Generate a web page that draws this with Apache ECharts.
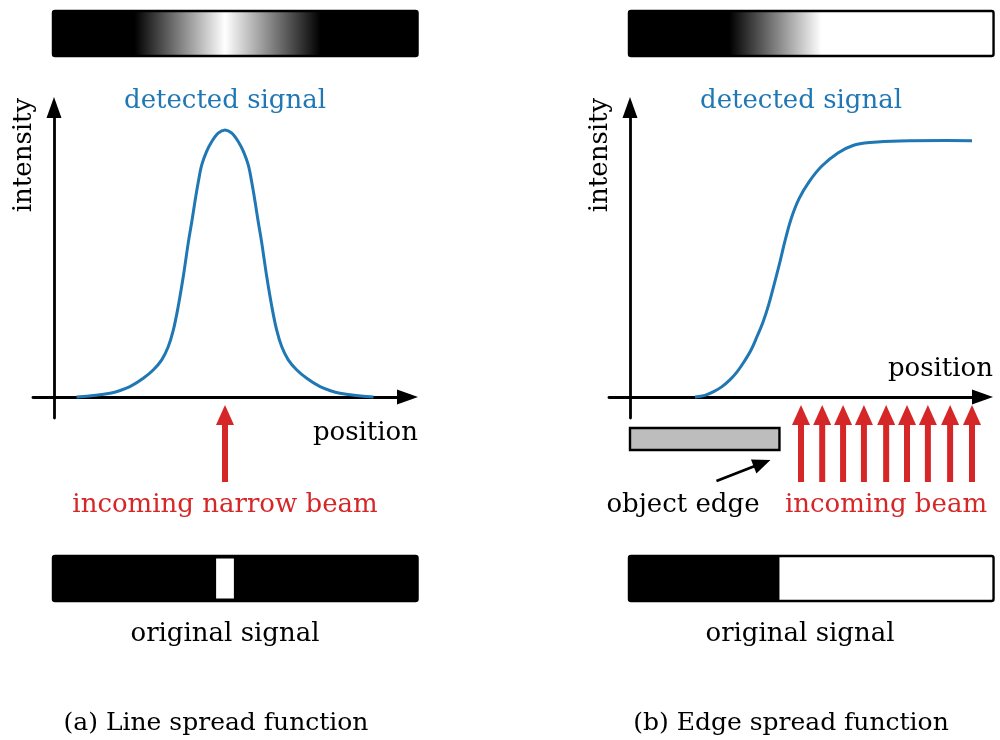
<!DOCTYPE html>
<html lang="en">
<head>
<meta charset="utf-8" />
<title>Line and edge spread function</title>
<style>
  html, body { margin: 0; padding: 0; background: #fff; }
  #main { width: 1000px; height: 740px; }
</style>
</head>
<body>
<div id="main"></div>
<script src="https://cdn.jsdelivr.net/npm/echarts@6/dist/echarts.min.js"></script>
<script>
// ---- values ----
// (a) line spread function: position / intensity
var lsfPos = [0.66, 1.64, 2.22, 2.61, 2.90, 3.15, 3.34, 3.49, 3.63, 3.78, 3.93, 4.03, 4.12, 4.22, 4.32, 4.46, 4.61, 4.80, 5.00,
              5.20, 5.39, 5.54, 5.68, 5.78, 5.88, 5.97, 6.07, 6.22, 6.37, 6.51, 6.66, 6.85, 7.10, 7.39, 7.78, 8.36, 9.34];
var lsfInt = [0.000, 0.014, 0.039, 0.070, 0.101, 0.139, 0.188, 0.251, 0.338, 0.451, 0.581, 0.657, 0.731, 0.806, 0.869, 0.919, 0.956, 0.988, 1.000,
              0.988, 0.956, 0.919, 0.869, 0.806, 0.731, 0.657, 0.581, 0.451, 0.338, 0.251, 0.188, 0.139, 0.101, 0.070, 0.039, 0.014, 0.000];
// (b) edge spread function
var esfPos = [1.90, 2.19, 2.46, 2.69, 2.92, 3.13, 3.33, 3.54, 3.71, 3.89, 4.06, 4.24, 4.39, 4.53, 4.71, 4.94,
              5.23, 5.61, 6.08, 6.52, 7.02, 7.89, 10.0];
var esfInt = [0.000, 0.006, 0.021, 0.039, 0.064, 0.094, 0.131, 0.176, 0.225, 0.281, 0.348, 0.434, 0.509, 0.584, 0.667, 0.742,
              0.805, 0.865, 0.914, 0.942, 0.953, 0.959, 0.960];
// incoming beams (position)
var narrowBeam = [5.0];
var wideBeams = [5.0, 5.62, 6.23, 6.84, 7.49, 8.10, 8.71, 9.36, 10.0];
// original signals
var lineSlit = [4.74, 5.26];
var objectEdge = 4.37;
// grey ramps of the detected-signal strips (position, grey level 0..1)
var lsfRampPos = [2.37, 5.0, 7.78];
var lsfRampLvl = [0, 1, 0];
var esfRampPos = [2.92, 5.6];
var esfRampLvl = [0, 1];

var BLUE = '#1f77b4', RED = '#d62728', INK = '#000';
var FONT = '"DejaVu Serif", "Liberation Serif", serif';

// layout (pixels)
var SX = 34.2, SY = 267, ARROW = 21;
var AXIS_Y = 397, AXIS_BOTTOM = 418, AXIS_TOP = 97;
var STRIP = [-0.03, 10.63];
var TOP_STRIP_Y = 11, LOW_STRIP_Y = 556, STRIP_H = 45;
var panels = [
  { left: 33, originX: 54, tip: 418 },
  { left: 609, originX: 630, tip: 993 }
];

var axisLine = {
  show: true, onZero: true,
  symbol: ['none', 'triangle'], symbolSize: [15, ARROW],
  lineStyle: { color: INK, width: 2.8 }
};
var grids = [], xAxes = [], yAxes = [];
panels.forEach(function (p, i) {
  var right = p.tip - ARROW / 2;
  grids.push({ left: p.left, top: AXIS_TOP + ARROW / 2, width: right - p.left,
               height: AXIS_BOTTOM - AXIS_TOP - ARROW / 2 });
  xAxes.push({ type: 'value', gridIndex: i, min: (p.left - p.originX) / SX, max: (right - p.originX) / SX,
               axisLine: axisLine, axisTick: { show: false }, axisLabel: { show: false }, splitLine: { show: false } });
  yAxes.push({ type: 'value', gridIndex: i, min: -(AXIS_BOTTOM - AXIS_Y) / SY, max: (AXIS_Y - AXIS_TOP - ARROW / 2) / SY,
               axisLine: axisLine, axisTick: { show: false }, axisLabel: { show: false }, splitLine: { show: false } });
});

function zip(a, b) { return a.map(function (v, k) { return [v, b[k]]; }); }
function grey(l) { var g = Math.round(l * 255); return 'rgb(' + g + ',' + g + ',' + g + ')'; }

function detectedStrip(rampPos, rampLvl) {
  return function (params, api) {
    var x0 = api.value(0), x1 = api.value(1);
    var a = api.coord([x0, 0]), b = api.coord([x1, 0]);
    var stops = rampPos.map(function (x, k) {
      return { offset: (x - x0) / (x1 - x0), color: grey(rampLvl[k]) };
    });
    return { type: 'rect', shape: { x: a[0], y: TOP_STRIP_Y, width: b[0] - a[0], height: STRIP_H, r: 2 },
             style: { fill: new echarts.graphic.LinearGradient(0, 0, 1, 0, stops), stroke: INK, lineWidth: 2.4 } };
  };
}

function slitStrip(params, api) {
  var a = api.coord([api.value(0), 0]), b = api.coord([api.value(1), 0]);
  var s0 = api.coord([lineSlit[0], 0]), s1 = api.coord([lineSlit[1], 0]);
  return { type: 'group', children: [
    { type: 'rect', shape: { x: a[0], y: LOW_STRIP_Y, width: b[0] - a[0], height: STRIP_H, r: 2 },
      style: { fill: INK, stroke: INK, lineWidth: 2.4 } },
    { type: 'rect', shape: { x: s0[0], y: LOW_STRIP_Y + 2.5, width: s1[0] - s0[0], height: STRIP_H - 5 },
      style: { fill: '#fff' } }
  ] };
}

function edgeStrip(params, api) {
  var a = api.coord([api.value(0), 0]), b = api.coord([api.value(1), 0]);
  var e = api.coord([objectEdge, 0]);
  return { type: 'group', children: [
    { type: 'rect', shape: { x: a[0], y: LOW_STRIP_Y, width: e[0] - a[0], height: STRIP_H },
      style: { fill: INK } },
    { type: 'rect', shape: { x: a[0], y: LOW_STRIP_Y, width: b[0] - a[0], height: STRIP_H, r: 2 },
      style: { fill: 'none', stroke: INK, lineWidth: 2.4 } }
  ] };
}

function objectBlock(params, api) {
  var a = api.coord([api.value(0), 0]), e = api.coord([api.value(1), 0]);
  var y = a[1];
  var tip = [e[0] - 9, y + 63], tail = [e[0] - 63, y + 84];
  var dx = tip[0] - tail[0], dy = tip[1] - tail[1], len = Math.sqrt(dx * dx + dy * dy);
  var ux = dx / len, uy = dy / len, hl = 18, hw = 7.5;
  var bx = tip[0] - ux * hl, by = tip[1] - uy * hl;
  return { type: 'group', children: [
    { type: 'rect', shape: { x: a[0], y: y + 31, width: e[0] - a[0], height: 22 },
      style: { fill: '#bdbdbd', stroke: INK, lineWidth: 2.4 } },
    { type: 'line', shape: { x1: tail[0], y1: tail[1], x2: bx + ux * 2, y2: by + uy * 2 },
      style: { stroke: INK, lineWidth: 2.8 } },
    { type: 'polygon', shape: { points: [tip, [bx - uy * hw, by + ux * hw], [bx + uy * hw, by - ux * hw]] },
      style: { fill: INK } }
  ] };
}

function beam(params, api) {
  var p = api.coord([api.value(0), 0]);
  var x = p[0], y = p[1];
  return { type: 'group', children: [
    { type: 'rect', shape: { x: x - 3, y: y + 24, width: 6, height: 61 }, style: { fill: RED } },
    { type: 'polygon', shape: { points: [[x, y + 8], [x + 9, y + 28], [x - 9, y + 28]] }, style: { fill: RED } }
  ] };
}

function custom(i, data, render) {
  return { type: 'custom', xAxisIndex: i, yAxisIndex: i, data: data, renderItem: render,
           clip: false, silent: true, z: 2 };
}

// the measured curve: one smooth polyline through all read points
function curve(i, pos, val) {
  var s = custom(i, zip(pos, val), function (params, api) {
    if (params.dataIndex !== 0) return null;
    var pts = pos.map(function (x, k) { return api.coord([x, val[k]]); });
    return { type: 'polyline', shape: { points: pts, smooth: 0.35 },
             style: { stroke: BLUE, lineWidth: 3, fill: null, lineJoin: 'round' } };
  });
  s.z = 3;
  return s;
}

function text(str, x, y, color, align, size, rot) {
  return { type: 'text', x: x, y: y, rotation: rot || 0, silent: true,
           style: { text: str, fill: color, align: align, verticalAlign: 'middle',
                    fontFamily: FONT, fontSize: size || 26 } };
}

var chart = echarts.init(document.getElementById('main'), null, { renderer: 'canvas' });
chart.setOption({
  animation: false,
  backgroundColor: '#fff',
  grid: grids,
  xAxis: xAxes,
  yAxis: yAxes,
  series: [
    custom(0, [STRIP], detectedStrip(lsfRampPos, lsfRampLvl)),
    custom(1, [STRIP], detectedStrip(esfRampPos, esfRampLvl)),
    custom(0, [STRIP], slitStrip),
    custom(1, [STRIP], edgeStrip),
    custom(1, [[0, objectEdge]], objectBlock),
    custom(0, narrowBeam.map(function (b) { return [b, 0]; }), beam),
    custom(1, wideBeams.map(function (b) { return [b, 0]; }), beam),
    curve(0, lsfPos, lsfInt),
    curve(1, esfPos, esfInt)
  ],
  graphic: [
    text('detected signal', 225, 101, BLUE, 'center'),
    text('detected signal', 801, 101, BLUE, 'center'),
    text('intensity', 24, 155, INK, 'center', 26, Math.PI / 2),
    text('intensity', 600, 155, INK, 'center', 26, Math.PI / 2),
    text('position', 418, 433, INK, 'right'),
    text('position', 993, 369, INK, 'right'),
    text('incoming narrow beam', 225, 505, RED, 'center'),
    text('object edge', 683, 505, INK, 'center'),
    text('incoming beam', 886, 505, RED, 'center'),
    text('original signal', 225, 634, INK, 'center'),
    text('original signal', 800, 634, INK, 'center'),
    text('(a) Line spread function', 216, 723, INK, 'center', 25),
    text('(b) Edge spread function', 791, 723, INK, 'center', 25)
  ]
});
</script>
</body>
</html>
